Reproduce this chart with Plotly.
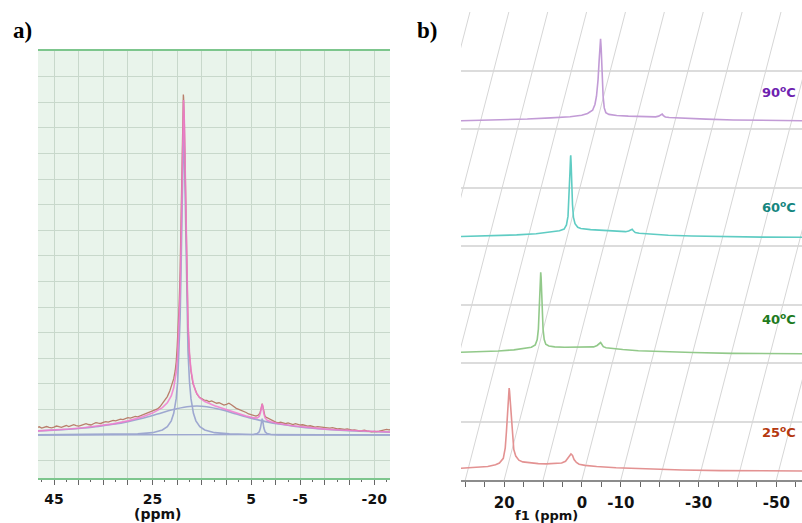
import plotly.graph_objects as go

W, H = 802, 523
def fx(x): return x / W
def fy(y): return 1 - y / H

# ---------------- Panel a data (ppm, intensity in arbitrary units) ----------------
a_tick_vals = [45, 40, 35, 30, 25, 20, 15, 10, 5, 0, -5, -10, -15, -20]
a_tick_text = ["45", " ", " ", " ", "25", " ", " ", " ", "5", " ", "-5", " ", " ", "-20"]

ppm_exp = [48.5, 48.0, 47.5, 47.0, 46.5, 46.0, 45.5, 45.0, 44.5, 44.0, 43.5, 43.0, 42.5, 42.0,
           41.5, 41.0, 40.5, 40.0, 39.5, 39.0, 38.5, 38.0, 37.5, 37.0, 36.5, 36.0, 35.5, 35.0,
           34.5, 34.0, 33.5, 33.0, 32.5, 32.0, 31.5, 31.0, 30.5, 30.0, 29.5, 29.0, 28.5, 28.0,
           27.5, 27.0, 26.5, 26.0, 25.5, 25.0, 24.5, 24.0, 23.5, 23.0, 22.5, 22.0, 21.5, 21.0,
           20.7, 20.4, 20.2, 20.0, 19.8, 19.6, 19.4, 19.2, 19.0, 18.85, 18.75, 18.7, 18.55, 18.4,
           18.2, 18.0, 17.8, 17.5, 17.2, 16.8, 16.4, 16.0, 15.5, 15.0, 14.5, 14.0, 13.5, 13.0,
           12.5, 12.0, 11.5, 11.0, 10.5, 10.0, 9.5, 9.0, 8.5, 8.0, 7.5, 7.0, 6.5, 6.0, 5.5, 5.0,
           4.5, 4.0, 3.5, 3.2, 3.0, 2.85, 2.75, 2.65, 2.5, 2.2, 2.0, 1.5, 1.0, 0.5, 0.0, -0.5,
           -1.0, -1.5, -2.0, -2.5, -3.0, -3.5, -4.0, -4.5, -5.0, -5.5, -6.0, -6.5, -7.0, -7.5,
           -8.0, -8.5, -9.0, -9.5, -10.0, -10.5, -11.0, -11.5, -12.0, -12.5, -13.0, -13.5, -14.0,
           -14.5, -15.0, -15.5, -16.0, -16.5, -17.0, -17.5, -18.0, -18.5, -19.0, -19.5, -20.0,
           -20.5, -21.0, -21.5, -22.0, -22.5, -23.0, -23.5]
exp_vals = [0.30, 0.32, 0.27, 0.29, 0.33, 0.30, 0.28, 0.31, 0.35, 0.33, 0.30, 0.34, 0.37, 0.33,
            0.36, 0.40, 0.37, 0.35, 0.38, 0.42, 0.44, 0.41, 0.39, 0.44, 0.48, 0.46, 0.45, 0.49,
            0.52, 0.50, 0.53, 0.57, 0.55, 0.58, 0.62, 0.60, 0.63, 0.68, 0.66, 0.69, 0.73, 0.71,
            0.75, 0.79, 0.80, 0.84, 0.88, 0.93, 0.98, 1.02, 1.10, 1.22, 1.36, 1.50, 1.72, 1.98,
            2.20, 2.52, 2.85, 3.45, 4.20, 5.10, 6.40, 8.40, 10.9, 12.7, 13.3, 13.2, 12.3, 10.3,
            7.6, 5.6, 4.3, 3.15, 2.50, 2.02, 1.76, 1.60, 1.47, 1.40, 1.36, 1.35, 1.30, 1.33,
            1.30, 1.24, 1.26, 1.22, 1.17, 1.20, 1.24, 1.18, 1.10, 1.04, 1.00, 0.97, 0.93, 0.88, 0.82, 0.79,
            0.76, 0.74, 0.78, 0.86, 1.00, 1.17, 1.22, 1.15, 0.97, 0.75, 0.70, 0.66, 0.60, 0.55, 0.50, 0.47,
            0.50, 0.46, 0.44, 0.47, 0.43, 0.41, 0.44, 0.42, 0.39, 0.40, 0.37, 0.35, 0.36, 0.34,
            0.31, 0.33, 0.32, 0.29, 0.30, 0.28, 0.27, 0.29, 0.27, 0.24, 0.25, 0.23, 0.22,
            0.24, 0.21, 0.19, 0.20, 0.18, 0.16, 0.17, 0.19, 0.16, 0.14, 0.12, 0.14,
            0.13, 0.15, 0.17, 0.20, 0.22, 0.20, 0.21]

ppm_broad = [48.5, 45, 42, 39, 36, 33, 30, 27, 24, 21, 18, 16, 14, 11, 8, 5, 2, -1, -4, -7,
             -10, -13, -16, -19, -23.5]
broad_vals = [0.156, 0.189, 0.226, 0.274, 0.335, 0.417, 0.523, 0.658, 0.819, 0.984, 1.104, 1.13,
              1.104, 0.984, 0.819, 0.658, 0.523, 0.417, 0.335, 0.274, 0.226, 0.189, 0.160, 0.137, 0.110]

ppm_narrow = [48.5, 40, 33, 28, 25, 23, 22, 21.2, 20.7, 20.2, 19.9, 19.6, 19.4, 19.2, 19.0, 18.85,
              18.7, 18.55, 18.4, 18.2, 18.0, 17.8, 17.5, 17.2, 16.7, 16.2, 15.4, 14.4, 12.4, 9.4,
              4.4, -2.6, -23.5]
narrow_vals = [0.004, 0.008, 0.018, 0.042, 0.091, 0.194, 0.324, 0.553, 0.845, 1.42, 2.08, 3.26,
               4.58, 6.57, 9.25, 11.17, 12.0, 11.17, 9.25, 6.57, 4.58, 3.26, 2.08, 1.42, 0.845,
               0.553, 0.324, 0.194, 0.091, 0.042, 0.018, 0.008, 0.002]

ppm_small = [48.5, 10, 6, 4.5, 3.75, 3.35, 3.1, 2.95, 2.85, 2.75, 2.65, 2.55, 2.4, 2.15, 1.75,
             1.0, -0.5, -4.5, -23.5]
small_vals = [0.0, 0.001, 0.005, 0.018, 0.053, 0.128, 0.271, 0.443, 0.576, 0.64, 0.576, 0.443,
              0.271, 0.128, 0.053, 0.018, 0.005, 0.001, 0.0]

ppm_fit = [48.5, 45, 42, 39, 36, 33, 30, 27, 25, 23, 22, 21.2, 20.7, 20.2, 19.9, 19.6, 19.4, 19.2,
           19.0, 18.85, 18.7, 18.55, 18.4, 18.2, 18.0, 17.8, 17.5, 17.2, 16.7, 16.2, 15.4, 14.4,
           12.4, 10, 8, 6, 4.5, 3.75, 3.35, 3.1, 2.95, 2.85, 2.75, 2.65, 2.55, 2.4, 2.15, 1.75,
           1.0, -0.5, -3, -7, -10, -13, -16, -19, -23.5]
fit_vals = [0.160, 0.194, 0.233, 0.283, 0.347, 0.435, 0.551, 0.710, 0.855, 1.070, 1.256, 1.527,
            1.844, 2.443, 3.117, 4.310, 5.638, 7.635, 10.323, 12.248, 13.083, 12.258, 10.343,
            7.669, 5.684, 4.369, 3.195, 2.540, 1.972, 1.683, 1.452, 1.307, 1.141, 0.980, 0.851,
            0.737, 0.670, 0.668, 0.723, 0.855, 1.021, 1.150, 1.209, 1.141, 1.004, 0.826, 0.672,
            0.580, 0.515, 0.448, 0.368, 0.280, 0.230, 0.193, 0.163, 0.140, 0.112]

# ---------------- Panel b data ----------------
b_tick_vals = [30, 25, 20, 15, 10, 5, 0, -5, -10, -15, -20, -25, -30, -35, -40, -45, -50, -55]
b_tick_text = [" ", " ", "20", " ", " ", " ", "0", " ", "-10", " ", " ", " ", "-30", " ", " ", " ", "-50", " "]
skew_grid = [60, 50, 40, 30, 20, 10, 0, -10, -20, -30, -40, -50]

temps = ["25", "40", "60", "90"]
offsets = [0.2, 2.18, 4.16, 6.14]
line_colors = ["#E39292", "#92C98A", "#5FCCC3", "#C29BD6"]
text_colors = ["#B5380F", "#1E7B1E", "#15867F", "#6E22B0"]

ppm_25 = [32, 28, 25, 23, 22, 21, 20.5, 20.2, 20.0, 19.8, 19.6, 19.5, 19.4, 19.2, 19.0, 18.7,
          18.3, 17.8, 17, 16, 14, 12, 10, 8, 6, 5, 4.5, 4, 3.6, 3.2, 2.8, 2.2, 1.5, 0, -3, -8,
          -15, -25, -35, -45, -58]
int_25 = [0.0, 0.01, 0.03, 0.06, 0.09, 0.17, 0.35, 0.62, 0.85, 1.10, 1.30, 1.37, 1.32, 1.12,
          0.88, 0.55, 0.32, 0.21, 0.14, 0.11, 0.09, 0.08, 0.075, 0.078, 0.09, 0.12, 0.16, 0.21,
          0.245, 0.22, 0.15, 0.10, 0.07, 0.05, 0.03, 0.01, -0.01, -0.03, -0.04, -0.045, -0.046]

ppm_40 = [41, 35, 30, 26, 23, 21.5, 20.5, 20.0, 19.7, 19.5, 19.35, 19.2, 19.1, 19.0, 18.85,
          18.7, 18.5, 18.2, 17.8, 17, 15.5, 13, 10, 7, 5.5, 4.6, 4.0, 3.7, 3.4, 3.0, 2.3, 1,
          -2, -6, -12, -20, -30, -40, -50]
int_40 = [0.0, 0.01, 0.025, 0.045, 0.07, 0.09, 0.13, 0.22, 0.40, 0.70, 1.05, 1.30, 1.37, 1.28,
          1.00, 0.68, 0.40, 0.22, 0.14, 0.11, 0.095, 0.09, 0.09, 0.09, 0.095, 0.12, 0.16, 0.17,
          0.14, 0.10, 0.08, 0.07, 0.05, 0.03, 0.015, 0.0, -0.015, -0.02, -0.023]

ppm_60 = [48, 40, 33, 28, 24, 22, 20.8, 20.2, 19.8, 19.5, 19.3, 19.15, 19.1, 19.0, 18.85,
          18.65, 18.4, 18.0, 17.3, 16.5, 14, 10, 7, 5, 4.2, 3.6, 3.3, 3.0, 2.5, 1.5, -2, -6,
          -12, -20, -30, -42]
int_60 = [0.0, 0.01, 0.03, 0.05, 0.075, 0.10, 0.13, 0.20, 0.35, 0.70, 1.10, 1.36, 1.39, 1.25,
          0.90, 0.55, 0.33, 0.22, 0.16, 0.14, 0.12, 0.105, 0.09, 0.085, 0.095, 0.12, 0.125,
          0.10, 0.07, 0.058, 0.04, 0.025, 0.012, 0.0, -0.008, -0.01]

ppm_90 = [56, 45, 38, 32, 27, 24, 22.5, 21.2, 20.6, 20.2, 19.8, 19.5, 19.3, 19.15, 19.0, 18.8,
          18.5, 18.2, 17.8, 17, 15, 12, 8, 5, 4.2, 3.6, 3.3, 3.0, 2.5, 1.5, -2, -8, -15, -22,
          -30, -35]
int_90 = [0.0, 0.015, 0.03, 0.05, 0.07, 0.095, 0.125, 0.18, 0.28, 0.42, 0.70, 1.05, 1.30, 1.40,
          1.25, 0.85, 0.42, 0.22, 0.14, 0.11, 0.09, 0.08, 0.072, 0.068, 0.08, 0.105, 0.114,
          0.09, 0.065, 0.057, 0.045, 0.029, 0.015, 0.006, 0.0, 0.0]

spectra_ppm = [ppm_25, ppm_40, ppm_60, ppm_90]
spectra_int = [int_25, int_40, int_60, int_90]

skew = 3.9      # ppm shift per unit of vertical offset (stack-plot perspective)
b_top = 8.0

fig = go.Figure()

# ---- panel a traces ----
comp_color = "#9EA8D0"
fig.add_trace(go.Scatter(x=ppm_broad, y=broad_vals, mode="lines", line=dict(color=comp_color, width=1.6, shape="spline"),
                         xaxis="x", yaxis="y", hoverinfo="skip"))
fig.add_trace(go.Scatter(x=ppm_narrow, y=narrow_vals, mode="lines", line=dict(color=comp_color, width=1.6),
                         xaxis="x", yaxis="y", hoverinfo="skip"))
fig.add_trace(go.Scatter(x=ppm_small, y=small_vals, mode="lines", line=dict(color=comp_color, width=1.6),
                         xaxis="x", yaxis="y", hoverinfo="skip"))
fig.add_trace(go.Scatter(x=ppm_exp, y=exp_vals, mode="lines", line=dict(color="#B97F6C", width=1.3),
                         xaxis="x", yaxis="y", hoverinfo="skip"))
fig.add_trace(go.Scatter(x=ppm_fit, y=fit_vals, mode="lines", line=dict(color="#F27BD0", width=1.6),
                         opacity=0.85, xaxis="x", yaxis="y", hoverinfo="skip"))

# ---- panel b: oblique perspective grid ----
for b in skew_grid:
    fig.add_trace(go.Scatter(x=[b, b - skew * b_top], y=[0, b_top], mode="lines",
                             line=dict(color="#D6D6D6", width=1), xaxis="x2", yaxis="y2", hoverinfo="skip"))

# ---- panel b spectra ----
for ppm, ints, off, col in zip(spectra_ppm, spectra_int, offsets, line_colors):
    fig.add_trace(go.Scatter(x=[p - skew * off for p in ppm], y=[v + off for v in ints], mode="lines",
                             line=dict(color=col, width=1.6), xaxis="x2", yaxis="y2", hoverinfo="skip"))

tickfont = dict(family="DejaVu Sans", size=14, color="#111111", weight="bold")

fig.update_layout(
    width=W, height=H, margin=dict(l=0, r=0, t=0, b=0),
    paper_bgcolor="white", plot_bgcolor="white", showlegend=False,
    xaxis=dict(domain=[fx(38), fx(390)], range=[48.25, -23.2], tickmode="array",
               tickvals=a_tick_vals, ticktext=a_tick_text, showgrid=True, gridcolor="#C8D8CB", gridwidth=1.3,
               showline=True, linecolor="#7DC68D", linewidth=2, mirror=True, zeroline=False,
               ticks="outside", ticklen=5, tickcolor="#666666", tickwidth=1, ticklabelstandoff=2,
               minor=dict(dtick=2.5, tick0=0, ticks="outside", ticklen=2, tickcolor="#666666", showgrid=False),
               tickfont=tickfont, anchor="y"),
    yaxis=dict(domain=[fy(478), fy(51)], range=[-1.68, 15], dtick=1, tick0=0, showgrid=True,
               gridcolor="#C8D8CB", gridwidth=1.3, showticklabels=False, zeroline=False, anchor="x"),
    xaxis2=dict(domain=[fx(461), 1.0], range=[31.1, -56.6], tickmode="array",
                tickvals=b_tick_vals, ticktext=b_tick_text, showgrid=False,
                showline=True, linecolor="#8C8C8C", linewidth=1.5, zeroline=False,
                ticks="outside", ticklen=5, tickcolor="#666666", ticklabelstandoff=3,
                tickfont=dict(tickfont, size=15), anchor="y2"),
    yaxis2=dict(domain=[fy(480), fy(12)], range=[0, b_top], dtick=1, tick0=0, showgrid=True,
                gridcolor="#DCDCDC", gridwidth=1.5, showticklabels=False, zeroline=False, anchor="x2"),
)

fig.add_shape(type="rect", xref="x domain", yref="y domain", x0=0, x1=1, y0=0, y1=1,
              fillcolor="#E9F4EB", line=dict(width=0), layer="below")

ann = []
def add_text(text, x, y, size, family="DejaVu Sans", color="#111111", xanchor="center"):
    ann.append(dict(text=text, x=fx(x), y=fy(y), xref="paper", yref="paper", showarrow=False,
                    xanchor=xanchor, yanchor="middle", font=dict(family=family, size=size, color=color)))

add_text("<b>a)</b>", 22, 30, 23, family="Liberation Serif", color="black")
add_text("<b>b)</b>", 427, 30, 23, family="Liberation Serif", color="black")
add_text("<b>(ppm)</b>", 157, 514, 14)
add_text("<b>f1 (ppm)</b>", 546, 515, 13)
label_y = [432, 319, 207, 92]
for t, c, yy in zip(temps, text_colors, label_y):
    add_text("<b>" + t + "<sup>o</sup>C</b>", 798, yy, 13, color=c, xanchor="right")
fig.update_layout(annotations=ann)

fig.write_html("out.html", config={"displayModeBar": False},
               post_script="document.body.style.margin='0';document.body.style.padding='0';")
